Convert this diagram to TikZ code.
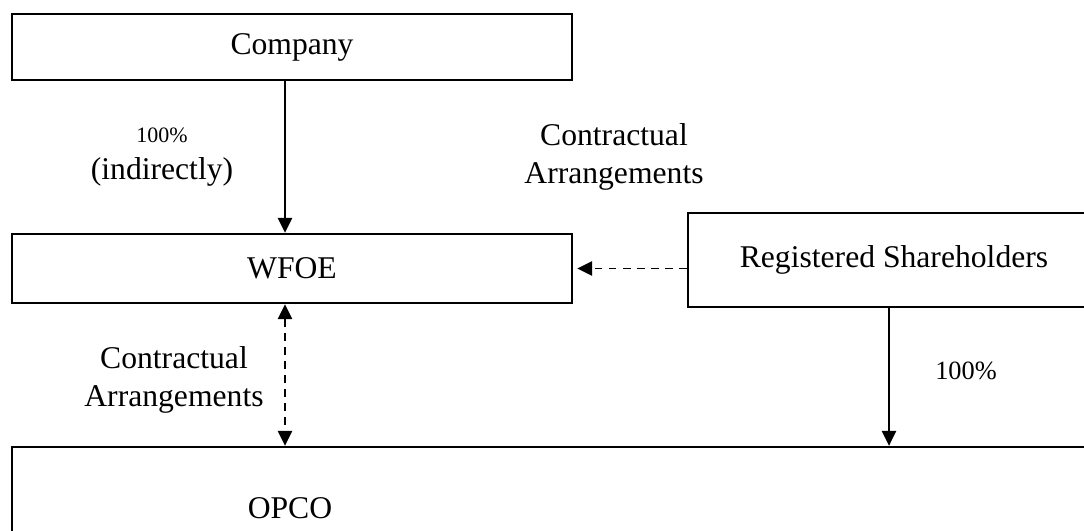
\documentclass[tikz,border=0pt]{standalone}
\usepackage{fontspec}
\setmainfont{Liberation Serif}
\usetikzlibrary{arrows.meta, positioning}

\begin{document}
\begin{tikzpicture}[x=0.2mm, y=-0.2mm, >={Triangle[length=3mm, width=2.9mm]},
    box/.style={draw, line width=1.4pt, inner sep=0pt, font=\fontsize{18}{21.6}\selectfont},
    lbl/.style={align=center, inner sep=0pt, font=\fontsize{18}{21.6}\selectfont},
    own/.style={->, line width=0.7pt},
    ctr/.style={line width=0.7pt, dash pattern=on 4.5pt off 3.5pt}]
  \useasboundingbox (0,0) rectangle (1084,530);
  \clip (0,0) rectangle (1084,530);
  % --- Entities ---
  \node[box, minimum width=112mm, minimum height=13.2mm] (company) at (292,47) {Company};
  \node[box, minimum width=112mm, minimum height=13.8mm] (wfoe) at (292,268.5) {WFOE};
  \node[box, minimum width=82.4mm, minimum height=18.8mm] (reg) at (894,260) {Registered Shareholders};
  \node[box, minimum width=217.6mm, minimum height=24.6mm,
    label={[xshift=-53.2mm, font=\fontsize{18}{21.6}\selectfont]center:OPCO}] (opco) at (556,508.5) {};
  \coordinate (stem) at ([xshift=-1.4mm]wfoe.south);
  \coordinate (regfoot) at ([xshift=-1mm]reg.south);
  % --- Ownership ---
  \draw[own] ([xshift=-1.4mm]company.south) -- ([xshift=-1.4mm]wfoe.north);
  \draw[own] (regfoot) -- (regfoot |- opco.north);
  \node[lbl, font=\fontsize{12.5}{15}\selectfont] (pctA) at (162,135) {100\%};
  \node[lbl] (indir) at (162,172) {(indirectly)};
  \node[lbl, font=\fontsize{15}{18}\selectfont] (pctB) at (966,371) {100\%};
  % --- Contractual arrangements ---
  \draw[ctr, ->, shorten >=0.8mm] (reg.west |- wfoe.east) -- (wfoe.east);
  \draw[ctr, <->] (stem) -- (stem |- opco.north);
  \node[lbl] (ctrA) at (614,157) {Contractual\\Arrangements};
  \node[lbl] (ctrB) at (174,380) {Contractual\\Arrangements};
\end{tikzpicture}
\end{document}
